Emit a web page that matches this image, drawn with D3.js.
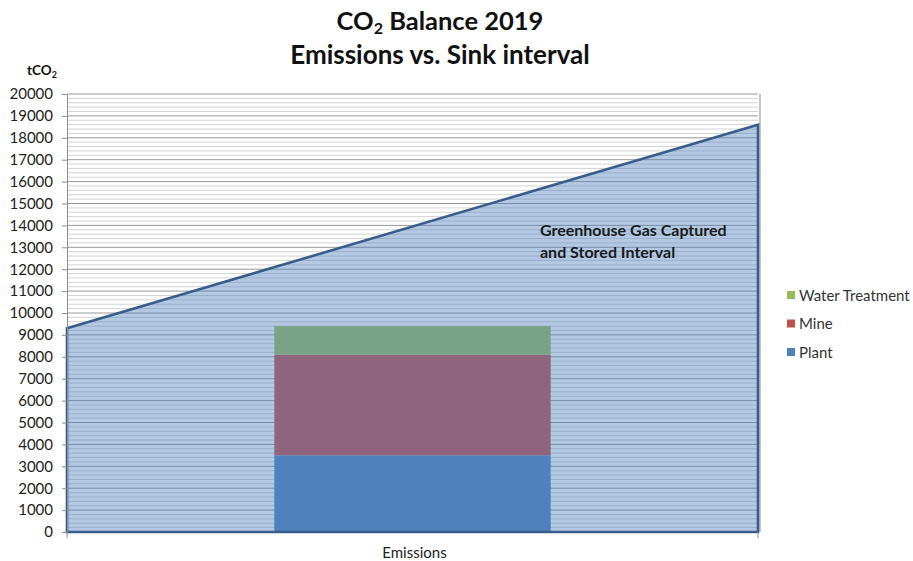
<!DOCTYPE html>
<html>
<head>
<meta charset="utf-8">
<script src="https://cdn.jsdelivr.net/npm/d3@7"></script>
<style>
  body { margin: 0; background: #fff; }
  svg { font-family: Lato, "Open Sans", sans-serif; }
</style>
</head>
<body>
<svg id="chart" width="913" height="561"></svg>
<script>
// Data
const categories = ['Emissions'];
const seriesNames = ['Plant', 'Mine', 'Water Treatment'];
const plantValues = [3500];
const mineValues = [4600];
const waterValues = [1300];
const sinkInterval = [9300, 18600]; // captured and stored interval, start -> end
const yTicks = d3.range(0, 20001, 1000);

const colors = { 'Plant': '#4f81bd', 'Mine': '#c0504d', 'Water Treatment': '#9bbb59' };

/**
 * Layout.
 */
const margin = { top: 94, right: 155, bottom: 29, left: 67 };
const visWidth = 913, visHeight = 561;
const width = visWidth - margin.left - margin.right,
    height = visHeight - margin.top - margin.bottom;

const svg = d3.select('#chart');
const g = svg.append('g').attr('transform', 'translate(' + margin.left + ',' + margin.top + ')');

const x = d3.scaleBand().domain(categories).range([0, width]).paddingInner(0).paddingOuter(0.75);
const xArea = d3.scaleLinear().domain([0, sinkInterval.length - 1]).range([0, width]);
const y = d3.scaleLinear().domain([0, 20000]).range([height, 0]);

// Minor grid lines
g.append('g').attr('class', 'grid-minor')
    .selectAll('line')
    .data(d3.range(0, 20001, 200).filter(v => v % 1000 !== 0))
    .join('line')
    .attr('x1', 0).attr('x2', width)
    .attr('y1', d => y(d)).attr('y2', d => y(d))
    .attr('stroke', '#c8c8c8').attr('stroke-width', 0.8);

// Major grid lines
g.append('g').attr('class', 'grid-major')
    .selectAll('line')
    .data(yTicks)
    .join('line')
    .attr('x1', 0).attr('x2', width)
    .attr('y1', d => y(d)).attr('y2', d => y(d))
    .attr('stroke', '#8c8c8c').attr('stroke-width', 0.9);

// Plot area right border
g.append('line')
    .attr('x1', width + 2).attr('x2', width + 2)
    .attr('y1', 0).attr('y2', height)
    .attr('stroke', '#8c8c8c');

// Stacked bar
const rows = categories.map((c, i) => ({
    category: c,
    'Plant': plantValues[i],
    'Mine': mineValues[i],
    'Water Treatment': waterValues[i]
}));
const stacked = d3.stack().keys(seriesNames)(rows);

g.append('g').attr('class', 'bars')
    .selectAll('g')
    .data(stacked)
    .join('g')
    .attr('fill', d => colors[d.key])
    .selectAll('rect')
    .data(d => d)
    .join('rect')
    .attr('x', d => x(d.data.category))
    .attr('width', x.bandwidth())
    .attr('y', d => y(d[1]))
    .attr('height', d => y(d[0]) - y(d[1]));

// Sink interval area (translucent, over the bar)
const area = d3.area()
    .x((d, i) => xArea(i))
    .y0(y(0))
    .y1(d => y(d));

g.append('path')
    .datum(sinkInterval)
    .attr('d', d => area(d) + 'Z')
    .attr('fill', '#4f81bd')
    .attr('fill-opacity', 0.43)
    .attr('stroke', '#385d8a')
    .attr('stroke-width', 2.6)
    .attr('stroke-linejoin', 'miter');

// Y axis
const yAxis = g.append('g')
    .call(d3.axisLeft(y).tickValues(yTicks).tickSize(5).tickSizeOuter(0).tickFormat(d3.format('d')));
yAxis.select('.domain').attr('stroke', '#8c8c8c');
yAxis.selectAll('.tick line').attr('stroke', '#8c8c8c');
yAxis.selectAll('.tick text')
    .attr('x', -14)
    .attr('fill', '#222')
    .style('font-size', '15px')
    .style('font-family', 'Lato, sans-serif');

// X axis
const xAxis = g.append('g').attr('transform', 'translate(0,' + height + ')');
xAxis.selectAll('line.xtick')
    .data([0, width])
    .join('line')
    .attr('x1', d => d).attr('x2', d => d)
    .attr('y1', 0).attr('y2', 6)
    .attr('stroke', '#8c8c8c');
xAxis.append('text')
    .attr('x', x('Emissions') + x.bandwidth() / 2 + 2)
    .attr('y', 26)
    .attr('text-anchor', 'middle')
    .attr('fill', '#222')
    .style('font-size', '15px')
    .text(categories[0]);

// Y axis unit
const unit = svg.append('text')
    .attr('x', 27).attr('y', 75)
    .attr('font-weight', 'bold')
    .attr('fill', '#111')
    .style('font-size', '13.5px');
unit.append('tspan').text('tCO');
unit.append('tspan').attr('dy', 3).style('font-size', '9px').text('2');

// Title
const title = svg.append('text')
    .attr('x', 440).attr('y', 30)
    .attr('text-anchor', 'middle')
    .attr('font-weight', 'bold')
    .attr('fill', '#111')
    .style('font-size', '25.5px');
title.append('tspan').text('CO');
title.append('tspan').attr('dy', 4).style('font-size', '16px').text('2');
title.append('tspan').attr('dy', -4).text(' Balance 2019');

svg.append('text')
    .attr('x', 440).attr('y', 64)
    .attr('text-anchor', 'middle')
    .attr('font-weight', 'bold')
    .attr('fill', '#111')
    .style('font-size', '26px')
    .text('Emissions vs. Sink interval');

// Annotation
const note = svg.append('text')
    .attr('x', 540).attr('y', 236)
    .attr('font-weight', 'bold')
    .attr('fill', '#1a1a1a')
    .style('font-size', '16px');
note.append('tspan').attr('x', 540).text('Greenhouse Gas Captured');
note.append('tspan').attr('x', 540).attr('dy', 22).text('and Stored Interval');

// Legend
const legend = svg.append('g').attr('transform', 'translate(787,291)');
const legendItems = legend.selectAll('g')
    .data(seriesNames.slice().reverse())
    .join('g')
    .attr('transform', (d, i) => 'translate(0,' + (i * 28.5) + ')');
legendItems.append('rect')
    .attr('width', 8).attr('height', 8)
    .attr('fill', d => colors[d]);
legendItems.append('text')
    .attr('x', 12).attr('y', 9.5)
    .attr('fill', '#333')
    .style('font-size', '15px')
    .text(d => d);
</script>
</body>
</html>
